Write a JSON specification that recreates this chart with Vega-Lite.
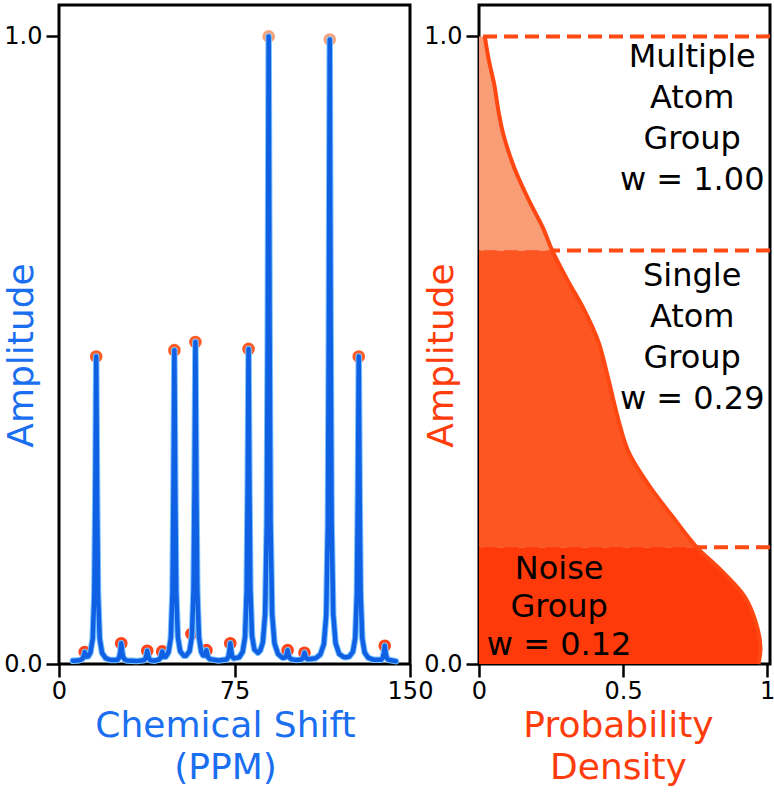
{
  "$schema": "https://vega.github.io/schema/vega-lite/v6.json",
  "background": "white",
  "padding": {"left": 2, "top": 3, "right": 1, "bottom": 0},
  "config": {
    "font": "DejaVu Sans",
    "view": {"stroke": "black", "strokeWidth": 3},
    "axis": {
      "grid": false, "domain": false,
      "tickColor": "black", "tickWidth": 2.5, "tickSize": 13,
      "labelFont": "DejaVu Sans", "labelFontSize": 24, "labelColor": "black", "labelPadding": 4,
      "labelFlush": false, "labelOverlap": false,
      "titleFont": "DejaVu Sans", "titleFontSize": 36, "titleFontWeight": "normal", "titleLineHeight": 42
    }
  },
  "datasets": {
    "spectrum": [
      {"ppm": 5.9, "amp": 0.005}, {"ppm": 8, "amp": 0.0054}, {"ppm": 9.5, "amp": 0.0069}, {"ppm": 10.2, "amp": 0.0092},
      {"ppm": 10.6, "amp": 0.0131}, {"ppm": 11.0, "amp": 0.019}, {"ppm": 11.4, "amp": 0.0143}, {"ppm": 11.8, "amp": 0.0117},
      {"ppm": 12.5, "amp": 0.0123}, {"ppm": 13.4, "amp": 0.0177}, {"ppm": 14.4, "amp": 0.040}, {"ppm": 15.1, "amp": 0.112},
      {"ppm": 15.5, "amp": 0.263}, {"ppm": 15.9, "amp": 0.49}, {"ppm": 16.3, "amp": 0.263}, {"ppm": 16.7, "amp": 0.112},
      {"ppm": 17.4, "amp": 0.040}, {"ppm": 18.4, "amp": 0.0177}, {"ppm": 19.9, "amp": 0.0094}, {"ppm": 22, "amp": 0.0064},
      {"ppm": 24.5, "amp": 0.0063}, {"ppm": 25.1, "amp": 0.0071}, {"ppm": 25.8, "amp": 0.0112}, {"ppm": 26.2, "amp": 0.0198},
      {"ppm": 26.6, "amp": 0.033}, {"ppm": 27.0, "amp": 0.0198}, {"ppm": 27.4, "amp": 0.0112}, {"ppm": 28.1, "amp": 0.0071},
      {"ppm": 29, "amp": 0.0055}, {"ppm": 33, "amp": 0.0046}, {"ppm": 36.2, "amp": 0.0059}, {"ppm": 36.9, "amp": 0.0084},
      {"ppm": 37.3, "amp": 0.0134}, {"ppm": 37.7, "amp": 0.021}, {"ppm": 38.1, "amp": 0.0134}, {"ppm": 38.5, "amp": 0.0084},
      {"ppm": 39.2, "amp": 0.0059}, {"ppm": 41, "amp": 0.0053}, {"ppm": 42.6, "amp": 0.0069}, {"ppm": 43.3, "amp": 0.0093},
      {"ppm": 43.7, "amp": 0.0136}, {"ppm": 44.1, "amp": 0.020}, {"ppm": 44.5, "amp": 0.0146}, {"ppm": 44.9, "amp": 0.0114},
      {"ppm": 45.6, "amp": 0.0114}, {"ppm": 46.8, "amp": 0.0187}, {"ppm": 47.8, "amp": 0.0417}, {"ppm": 48.5, "amp": 0.115},
      {"ppm": 48.9, "amp": 0.269}, {"ppm": 49.3, "amp": 0.500}, {"ppm": 49.7, "amp": 0.270}, {"ppm": 50.1, "amp": 0.115},
      {"ppm": 50.8, "amp": 0.0426}, {"ppm": 51.8, "amp": 0.0202}, {"ppm": 53.3, "amp": 0.0133}, {"ppm": 54.3, "amp": 0.0133},
      {"ppm": 55.8, "amp": 0.0205}, {"ppm": 56.8, "amp": 0.0437}, {"ppm": 57.5, "amp": 0.119}, {"ppm": 57.9, "amp": 0.277},
      {"ppm": 58.3, "amp": 0.513}, {"ppm": 58.7, "amp": 0.277}, {"ppm": 59.1, "amp": 0.118}, {"ppm": 59.8, "amp": 0.043},
      {"ppm": 60.8, "amp": 0.019}, {"ppm": 61.5, "amp": 0.014}, {"ppm": 62.2, "amp": 0.0134}, {"ppm": 62.6, "amp": 0.0164},
      {"ppm": 63.0, "amp": 0.022}, {"ppm": 63.4, "amp": 0.015}, {"ppm": 63.8, "amp": 0.0104}, {"ppm": 64.5, "amp": 0.0078},
      {"ppm": 68, "amp": 0.0055}, {"ppm": 71.7, "amp": 0.0073}, {"ppm": 72.4, "amp": 0.0115}, {"ppm": 72.8, "amp": 0.020},
      {"ppm": 73.2, "amp": 0.033}, {"ppm": 73.6, "amp": 0.0203}, {"ppm": 74.0, "amp": 0.012}, {"ppm": 74.7, "amp": 0.0089},
      {"ppm": 77, "amp": 0.0107}, {"ppm": 78.5, "amp": 0.0196}, {"ppm": 79.5, "amp": 0.0429}, {"ppm": 80.2, "amp": 0.116},
      {"ppm": 80.6, "amp": 0.272}, {"ppm": 81.0, "amp": 0.502}, {"ppm": 81.4, "amp": 0.273}, {"ppm": 81.8, "amp": 0.117},
      {"ppm": 82.5, "amp": 0.0447}, {"ppm": 83.5, "amp": 0.0229}, {"ppm": 85.0, "amp": 0.018}, {"ppm": 86.0, "amp": 0.0213},
      {"ppm": 87.1, "amp": 0.0344}, {"ppm": 88.1, "amp": 0.080}, {"ppm": 88.8, "amp": 0.2255}, {"ppm": 89.2, "amp": 0.534},
      {"ppm": 89.6, "amp": 1.0}, {"ppm": 90.0, "amp": 0.534}, {"ppm": 90.4, "amp": 0.2245}, {"ppm": 91.1, "amp": 0.079},
      {"ppm": 92.1, "amp": 0.0327}, {"ppm": 93.6, "amp": 0.016}, {"ppm": 95.5, "amp": 0.010}, {"ppm": 96.2, "amp": 0.0101},
      {"ppm": 96.9, "amp": 0.0111}, {"ppm": 97.3, "amp": 0.0155}, {"ppm": 97.7, "amp": 0.022}, {"ppm": 98.1, "amp": 0.0149},
      {"ppm": 98.5, "amp": 0.0102}, {"ppm": 99.2, "amp": 0.0078}, {"ppm": 101.5, "amp": 0.0062}, {"ppm": 103.4, "amp": 0.007},
      {"ppm": 104.1, "amp": 0.0088}, {"ppm": 104.5, "amp": 0.0124}, {"ppm": 104.9, "amp": 0.018}, {"ppm": 105.3, "amp": 0.0126},
      {"ppm": 105.7, "amp": 0.0091}, {"ppm": 106.4, "amp": 0.0076}, {"ppm": 109.7, "amp": 0.0093}, {"ppm": 111.7, "amp": 0.0153},
      {"ppm": 113.2, "amp": 0.032}, {"ppm": 114.2, "amp": 0.078}, {"ppm": 114.9, "amp": 0.223}, {"ppm": 115.3, "amp": 0.530},
      {"ppm": 115.7, "amp": 0.995}, {"ppm": 116.1, "amp": 0.530}, {"ppm": 116.5, "amp": 0.224}, {"ppm": 117.2, "amp": 0.079},
      {"ppm": 118.2, "amp": 0.033}, {"ppm": 119.7, "amp": 0.0162}, {"ppm": 121.7, "amp": 0.0111}, {"ppm": 122.6, "amp": 0.0106},
      {"ppm": 124.1, "amp": 0.0119}, {"ppm": 125.6, "amp": 0.0195}, {"ppm": 126.6, "amp": 0.0418}, {"ppm": 127.3, "amp": 0.113},
      {"ppm": 127.7, "amp": 0.265}, {"ppm": 128.1, "amp": 0.49}, {"ppm": 128.5, "amp": 0.264}, {"ppm": 128.9, "amp": 0.112},
      {"ppm": 129.6, "amp": 0.041}, {"ppm": 130.6, "amp": 0.0185}, {"ppm": 132.1, "amp": 0.0101}, {"ppm": 134.5, "amp": 0.0066},
      {"ppm": 137.7, "amp": 0.0069}, {"ppm": 138.4, "amp": 0.0104}, {"ppm": 138.8, "amp": 0.0178}, {"ppm": 139.2, "amp": 0.029},
      {"ppm": 139.6, "amp": 0.0177}, {"ppm": 140.0, "amp": 0.0103}, {"ppm": 140.7, "amp": 0.0068}, {"ppm": 144, "amp": 0.0045}
    ],
    "peaks": [
      {"ppm": 11.0, "amp": 0.019, "group": "noise"}, {"ppm": 15.9, "amp": 0.490, "group": "single"},
      {"ppm": 26.6, "amp": 0.033, "group": "noise"}, {"ppm": 37.7, "amp": 0.021, "group": "noise"},
      {"ppm": 44.1, "amp": 0.020, "group": "noise"}, {"ppm": 49.3, "amp": 0.500, "group": "single"},
      {"ppm": 56.6, "amp": 0.048, "group": "noise"}, {"ppm": 58.3, "amp": 0.513, "group": "single"},
      {"ppm": 63.0, "amp": 0.022, "group": "noise"}, {"ppm": 73.2, "amp": 0.033, "group": "noise"},
      {"ppm": 81.0, "amp": 0.502, "group": "single"}, {"ppm": 89.6, "amp": 1.0, "group": "multiple"},
      {"ppm": 97.7, "amp": 0.022, "group": "noise"}, {"ppm": 104.9, "amp": 0.018, "group": "noise"},
      {"ppm": 115.7, "amp": 0.995, "group": "multiple"}, {"ppm": 128.1, "amp": 0.490, "group": "single"},
      {"ppm": 139.2, "amp": 0.029, "group": "noise"}
    ],
    "regions": [
      {"seg": "multiple", "amp": 1.0, "dens": 0.02}, {"seg": "multiple", "amp": 0.96, "dens": 0.035},
      {"seg": "multiple", "amp": 0.923, "dens": 0.053}, {"seg": "multiple", "amp": 0.88, "dens": 0.068},
      {"seg": "multiple", "amp": 0.843, "dens": 0.085}, {"seg": "multiple", "amp": 0.79, "dens": 0.123},
      {"seg": "multiple", "amp": 0.737, "dens": 0.175}, {"seg": "multiple", "amp": 0.695, "dens": 0.222},
      {"seg": "multiple", "amp": 0.659, "dens": 0.254},
      {"seg": "single", "amp": 0.659, "dens": 0.254}, {"seg": "single", "amp": 0.61, "dens": 0.309},
      {"seg": "single", "amp": 0.567, "dens": 0.362}, {"seg": "single", "amp": 0.514, "dens": 0.414},
      {"seg": "single", "amp": 0.452, "dens": 0.45}, {"seg": "single", "amp": 0.392, "dens": 0.482},
      {"seg": "single", "amp": 0.339, "dens": 0.518}, {"seg": "single", "amp": 0.286, "dens": 0.588},
      {"seg": "single", "amp": 0.233, "dens": 0.675}, {"seg": "single", "amp": 0.186, "dens": 0.756},
      {"seg": "noise", "amp": 0.186, "dens": 0.756}, {"seg": "noise", "amp": 0.148, "dens": 0.843},
      {"seg": "noise", "amp": 0.106, "dens": 0.924}, {"seg": "noise", "amp": 0.063, "dens": 0.963},
      {"seg": "noise", "amp": 0.026, "dens": 0.977}, {"seg": "noise", "amp": 0.0, "dens": 0.97}
    ],
    "curve": [
      {"amp": 1.0, "dens": 0.02}, {"amp": 0.96, "dens": 0.035}, {"amp": 0.923, "dens": 0.053}, {"amp": 0.88, "dens": 0.068},
      {"amp": 0.843, "dens": 0.085}, {"amp": 0.79, "dens": 0.123}, {"amp": 0.737, "dens": 0.175}, {"amp": 0.695, "dens": 0.222},
      {"amp": 0.659, "dens": 0.254}, {"amp": 0.61, "dens": 0.309}, {"amp": 0.567, "dens": 0.362}, {"amp": 0.514, "dens": 0.414},
      {"amp": 0.452, "dens": 0.45}, {"amp": 0.392, "dens": 0.482}, {"amp": 0.339, "dens": 0.518}, {"amp": 0.286, "dens": 0.588},
      {"amp": 0.233, "dens": 0.675}, {"amp": 0.186, "dens": 0.756}, {"amp": 0.148, "dens": 0.843}, {"amp": 0.106, "dens": 0.924},
      {"amp": 0.063, "dens": 0.963}, {"amp": 0.026, "dens": 0.977}, {"amp": 0.0, "dens": 0.97}
    ],
    "cuts": [{"amp": 1.0}, {"amp": 0.659}, {"amp": 0.186}],
    "labels": [
      {"dens": 0.74, "amp": 0.952, "label": "Multiple\nAtom\nGroup\nw = 1.00", "grp": "upper"},
      {"dens": 0.74, "amp": 0.602, "label": "Single\nAtom\nGroup\nw = 0.29", "grp": "upper"},
      {"dens": 0.278, "amp": 0.135, "label": "Noise\nGroup\nw = 0.12", "grp": "lower"}
    ]
  },
  "hconcat": [
    {
      "width": 351,
      "height": 659,
      "layer": [
        {
          "data": {"name": "peaks"},
          "mark": {"type": "point", "filled": true, "size": 160, "opacity": 1},
          "encoding": {
            "x": {"field": "ppm", "type": "quantitative", "scale": {"domain": [0, 150], "nice": false},
              "axis": {"values": [0, 75, 150], "format": "d", "labelPadding": 2,
                "title": ["Chemical Shift", "(PPM)"], "titleColor": "#1a6ff0", "titlePadding": 5, "titleX": 166}},
            "y": {"field": "amp", "type": "quantitative", "scale": {"domain": [0, 1.05], "nice": false},
              "axis": {"values": [0, 1], "format": ".1f", "title": "Amplitude", "titleColor": "#1a6ff0",
                "titlePadding": -37, "titleY": 350}},
            "color": {"field": "group", "type": "nominal",
              "scale": {"domain": ["multiple", "single", "noise"], "range": ["#f7a47c", "#fd5e27", "#ff4519"]},
              "legend": null}
          }
        },
        {
          "data": {"name": "spectrum"},
          "mark": {"type": "line", "color": "#7cc4ff", "strokeWidth": 6.5, "strokeJoin": "round", "strokeCap": "round"},
          "encoding": {
            "x": {"field": "ppm", "type": "quantitative", "scale": {"domain": [0, 150], "nice": false}},
            "y": {"field": "amp", "type": "quantitative", "scale": {"domain": [0, 1.05], "nice": false}}
          }
        },
        {
          "data": {"name": "spectrum"},
          "mark": {"type": "line", "color": "#1060e4", "strokeWidth": 4.5, "strokeJoin": "round", "strokeCap": "round"},
          "encoding": {
            "x": {"field": "ppm", "type": "quantitative", "scale": {"domain": [0, 150], "nice": false}},
            "y": {"field": "amp", "type": "quantitative", "scale": {"domain": [0, 1.05], "nice": false}}
          }
        }
      ]
    },
    {
      "width": 291,
      "height": 659,
      "layer": [
        {
          "data": {"name": "cuts"},
          "mark": {"type": "rule", "color": "#ff4a14", "strokeWidth": 4, "strokeDash": [14, 7]},
          "encoding": {
            "y": {"field": "amp", "type": "quantitative", "scale": {"domain": [0, 1.05], "nice": false},
              "axis": {"values": [0, 1], "format": ".1f", "title": "Amplitude", "titleColor": "#ff3c0c",
                "titlePadding": -37, "titleY": 350}}
          }
        },
        {
          "data": {"name": "regions"},
          "transform": [{"filter": "datum.seg == 'multiple'"}],
          "mark": {"type": "area", "orient": "horizontal", "color": "#f99d77", "opacity": 1, "interpolate": "catmull-rom"},
          "encoding": {
            "x": {"field": "dens", "type": "quantitative", "stack": null, "scale": {"domain": [0, 1.01], "nice": false},
              "axis": {"values": [0, 0.5, 1], "format": "~g", "labelPadding": 2,
                "title": ["Probability", "Density"], "titleColor": "#ff3c0c", "titlePadding": 5, "titleX": 139}},
            "y": {"field": "amp", "type": "quantitative", "scale": {"domain": [0, 1.05], "nice": false}}
          }
        },
        {
          "data": {"name": "regions"},
          "transform": [{"filter": "datum.seg == 'single'"}],
          "mark": {"type": "area", "orient": "horizontal", "color": "#fc5622", "opacity": 1, "interpolate": "catmull-rom"},
          "encoding": {
            "x": {"field": "dens", "type": "quantitative", "stack": null, "scale": {"domain": [0, 1.01], "nice": false}},
            "y": {"field": "amp", "type": "quantitative", "scale": {"domain": [0, 1.05], "nice": false}}
          }
        },
        {
          "data": {"name": "regions"},
          "transform": [{"filter": "datum.seg == 'noise'"}],
          "mark": {"type": "area", "orient": "horizontal", "color": "#ff3a0a", "opacity": 1, "interpolate": "catmull-rom"},
          "encoding": {
            "x": {"field": "dens", "type": "quantitative", "stack": null, "scale": {"domain": [0, 1.01], "nice": false}},
            "y": {"field": "amp", "type": "quantitative", "scale": {"domain": [0, 1.05], "nice": false}}
          }
        },
        {
          "data": {"name": "curve"},
          "mark": {"type": "line", "color": "#ff4712", "strokeWidth": 4, "interpolate": "catmull-rom"},
          "encoding": {
            "x": {"field": "dens", "type": "quantitative", "scale": {"domain": [0, 1.01], "nice": false}},
            "y": {"field": "amp", "type": "quantitative", "scale": {"domain": [0, 1.05], "nice": false}},
            "order": {"field": "amp", "type": "quantitative", "sort": "descending"}
          }
        },
        {
          "data": {"name": "labels"},
          "transform": [{"filter": "datum.grp == 'upper'"}],
          "mark": {"type": "text", "font": "DejaVu Sans", "fontSize": 32, "color": "black", "align": "center",
            "baseline": "alphabetic", "lineBreak": "\n", "lineHeight": 41},
          "encoding": {
            "x": {"field": "dens", "type": "quantitative", "scale": {"domain": [0, 1.01], "nice": false}},
            "y": {"field": "amp", "type": "quantitative", "scale": {"domain": [0, 1.05], "nice": false}},
            "text": {"field": "label"}
          }
        },
        {
          "data": {"name": "labels"},
          "transform": [{"filter": "datum.grp == 'lower'"}],
          "mark": {"type": "text", "font": "DejaVu Sans", "fontSize": 32, "color": "black", "align": "center",
            "baseline": "alphabetic", "lineBreak": "\n", "lineHeight": 38},
          "encoding": {
            "x": {"field": "dens", "type": "quantitative", "scale": {"domain": [0, 1.01], "nice": false}},
            "y": {"field": "amp", "type": "quantitative", "scale": {"domain": [0, 1.05], "nice": false}},
            "text": {"field": "label"}
          }
        }
      ]
    }
  ],
  "spacing": 69,
  "bounds": "flush"
}
